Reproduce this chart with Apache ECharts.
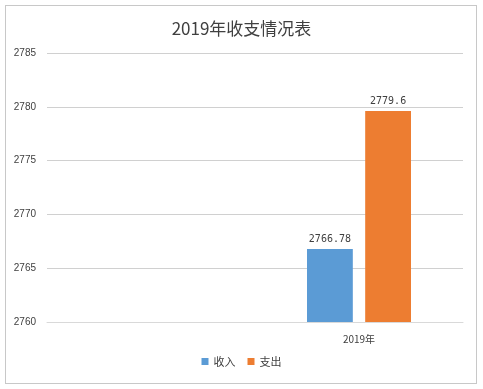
<!DOCTYPE html>
<html>
<head>
<meta charset="utf-8">
<script src="https://cdn.jsdelivr.net/npm/echarts@6/dist/echarts.min.js"></script>
<style>
html,body{margin:0;padding:0;background:#fff;}
#frame{position:absolute;left:5px;top:5px;width:470px;height:377px;border:1px solid #c8c8c8;}
#chart{position:absolute;left:0;top:0;width:483px;height:389px;}
</style>
</head>
<body>
<div id="frame"></div>
<div id="chart"></div>
<script>
const categories = ['', '2019年'];
const incomeValues = [null, 2766.78];
const expenseValues = [null, 2779.6];
const yTicks = [2760, 2765, 2770, 2775, 2780, 2785];

const chart = echarts.init(document.getElementById('chart'));
chart.setOption({
  animation: false,
  title: {
    text: '2019年收支情况表',
    left: 'center',
    top: 15,
    textStyle: {fontSize: 17, fontWeight: 'normal', color: '#404040', fontFamily: 'Noto Sans CJK SC'}
  },
  legend: {
    bottom: 17,
    left: 'center',
    itemWidth: 7,
    itemHeight: 7,
    itemGap: 12,
    icon: 'rect',
    textStyle: {fontSize: 11, color: '#404040', fontFamily: 'Noto Sans CJK SC'},
    data: ['收入', '支出']
  },
  grid: {left: 47, right: 20, top: 53, bottom: 67, containLabel: false},
  xAxis: {
    type: 'category',
    data: categories,
    axisLine: {show: true, lineStyle: {color: '#d9d9d9'}},
    axisTick: {show: false},
    axisLabel: {fontSize: 10, color: '#404040', margin: 12, fontFamily: 'Noto Sans CJK SC'}
  },
  yAxis: {
    type: 'value',
    min: yTicks[0],
    max: yTicks[yTicks.length - 1],
    interval: 5,
    axisLine: {show: false},
    axisTick: {show: false},
    axisLabel: {fontSize: 10, color: '#404040', margin: 11, fontFamily: 'Liberation Sans', formatter: v => String(v)},
    splitLine: {lineStyle: {color: '#d0d0d0'}}
  },
  series: [
    {
      name: '收入', type: 'bar', data: incomeValues,
      barGap: '27%', barCategoryGap: '50%',
      itemStyle: {color: '#5B9BD5'},
      label: {show: true, position: 'top', fontSize: 10, color: '#404040', fontFamily: 'DejaVu Sans Mono', formatter: p => String(p.value)}
    },
    {
      name: '支出', type: 'bar', data: expenseValues,
      itemStyle: {color: '#ED7D31'},
      label: {show: true, position: 'top', fontSize: 10, color: '#404040', fontFamily: 'DejaVu Sans Mono', formatter: p => String(p.value)}
    }
  ]
});
</script>
</body>
</html>
